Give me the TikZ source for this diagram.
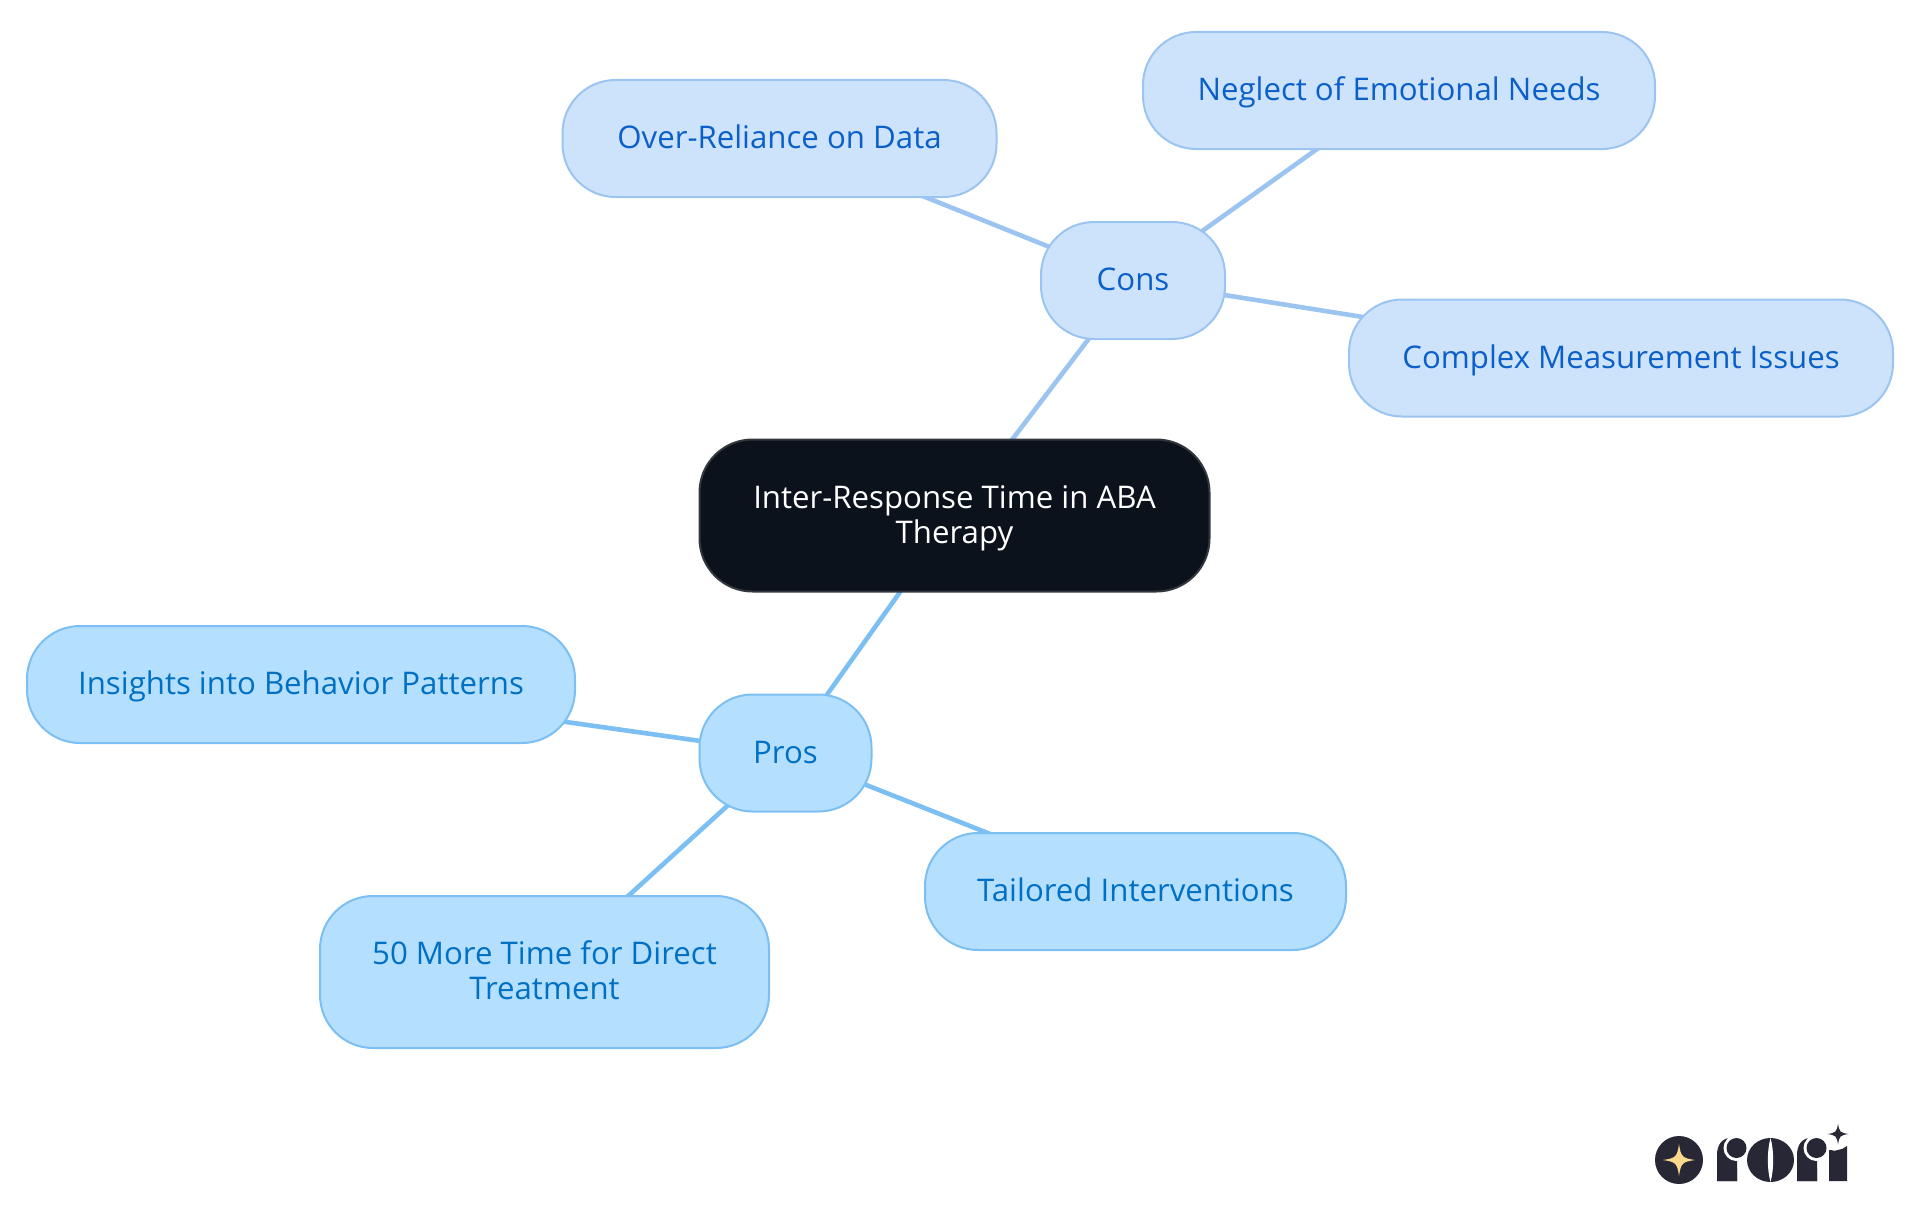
\documentclass[tikz,border=0pt]{standalone}
\usepackage{fontspec}
\setmainfont{Open Sans}
\usetikzlibrary{backgrounds}
\definecolor{rootfill}{HTML}{0B121B}
\definecolor{rootline}{HTML}{33383F}
\definecolor{consfill}{HTML}{CDE3FC}
\definecolor{consline}{HTML}{9CC4F0}
\definecolor{constext}{HTML}{0B5FC9}
\definecolor{prosfill}{HTML}{B4DFFF}
\definecolor{prosline}{HTML}{7CBFF2}
\definecolor{prostext}{HTML}{0070C4}
\definecolor{logodark}{HTML}{272736}
\definecolor{logostar}{HTML}{FBD98C}
\newcommand{\st}{\rule[-7.5pt]{0pt}{35pt}}
\tikzset{
  mm/.style={rounded corners=#1,align=center,inner sep=0pt,line width=2pt,font=\fontsize{31.2}{35}\selectfont},
  rootbox/.style={mm=53pt,fill=rootfill,draw=rootline,text=white},
  consbox/.style={mm=53pt,fill=consfill,draw=consline,text=constext},
  prosbox/.style={mm=53pt,fill=prosfill,draw=prosline,text=prostext},
  conslink/.style={draw=consline,line width=4.6pt},
  proslink/.style={draw=prosline,line width=4.6pt}
}
\newcommand{\fourstar}[4]{% x y radius colour
  \fill[#4] (#1-#3,#2) .. controls (#1-#3*.2,#2-#3*.12) and (#1-#3*.12,#2-#3*.2) .. (#1,#2-#3)
   .. controls (#1+#3*.12,#2-#3*.2) and (#1+#3*.2,#2-#3*.12) .. (#1+#3,#2)
   .. controls (#1+#3*.2,#2+#3*.12) and (#1+#3*.12,#2+#3*.2) .. (#1,#2+#3)
   .. controls (#1-#3*.12,#2+#3*.2) and (#1-#3*.2,#2+#3*.12) .. (#1-#3,#2) -- cycle;}
\newcommand{\rorir}[1]{% stem left x
  \fill[logodark] (#1,1181) -- (#1,1155) .. controls (#1,1146) and (#1+4,1138.5) .. (#1+13,1138) -- (#1+20,1138) -- (#1+20,1181) -- cycle;
  \fill[white] (#1+19.5,1148) circle (13);
  \fill[logodark] (#1+19.5,1148) circle (10);
  \fill[logodark] (#1,1181) -- (#1,1160) -- (#1+20,1168) -- (#1+20,1181) -- cycle;}
\begin{document}
\begin{tikzpicture}[x=1pt,y=-1pt]
\useasboundingbox (0,0) rectangle (1920,1215);
\node[rootbox,minimum width=510pt,minimum height=152pt] (root) at (954.5,515.5) {\st Inter-Response Time in ABA\\\st Therapy};
\node[consbox,minimum width=184pt,minimum height=117pt] (cons) at (1133,280.5) {\st Cons};
\node[consbox,minimum width=434pt,minimum height=117pt] (over) at (779.5,138.5) {\st Over-Reliance on Data};
\node[consbox,minimum width=512pt,minimum height=117pt] (negl) at (1399,90.5) {\st Neglect of Emotional Needs};
\node[consbox,minimum width=544pt,minimum height=117pt] (comp) at (1621,358) {\st Complex Measurement Issues};
\node[prosbox,minimum width=172pt,minimum height=117pt] (pros) at (785.5,753) {\st Pros};
\node[prosbox,minimum width=548pt,minimum height=117pt] (insi) at (301,684.5) {\st Insights into Behavior Patterns};
\node[prosbox,minimum width=421pt,minimum height=117pt] (tail) at (1135.5,891.5) {\st Tailored Interventions};
\node[prosbox,minimum width=449pt,minimum height=152pt] (more) at (544.5,972) {\st 50 More Time for Direct\\\st Treatment};
\begin{scope}[on background layer]
\draw[conslink] (root.center) -- (cons.center);
\draw[conslink] (cons.center) -- (over.center);
\draw[conslink] (cons.center) -- (negl.center);
\draw[conslink] (cons.center) -- (comp.center);
\draw[proslink] (root.center) -- (pros.center);
\draw[proslink] (pros.center) -- (insi.center);
\draw[proslink] (pros.center) -- (tail.center);
\draw[proslink] (pros.center) -- (more.center);
\end{scope}
% logo
\fill[logodark] (1679,1160) circle (24);
\fourstar{1679}{1160}{16}{logostar}
\rorir{1717}
\fill[logodark] (1770.5,1160) ellipse (23.5 and 22);
\fill[white] (1770.5,1138) .. controls (1767,1150) and (1767,1170) .. (1770.5,1182) .. controls (1774,1170) and (1774,1150) .. (1770.5,1138) -- cycle;
\rorir{1797}
\fill[logodark] (1829,1181) -- (1829,1150) .. controls (1834,1150) and (1836,1152) .. (1838,1150) .. controls (1841,1150) and (1844,1148) .. (1847,1146) -- (1847,1181) -- cycle;
\fourstar{1838}{1134}{10.5}{logodark}
\end{tikzpicture}
\end{document}
